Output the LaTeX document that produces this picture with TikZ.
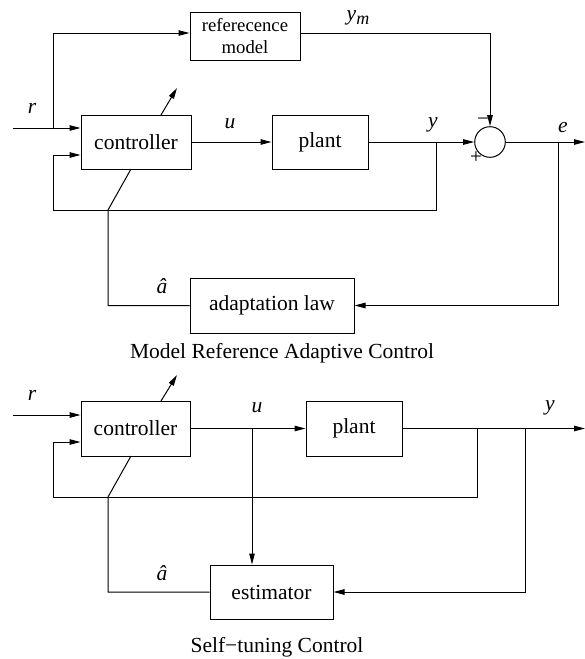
\documentclass[tikz,border=0pt]{standalone}
\usepackage{fontspec}
\setmainfont{Liberation Serif}
\usetikzlibrary{arrows.meta,calc}
\begin{document}
\begin{tikzpicture}[x=1pt,y=-1pt,line width=1pt,
  blk/.style={draw,line width=1pt,inner sep=0pt,font=\fontsize{21.5}{24}\selectfont},
  arr/.style={-{Triangle[length=11pt,width=5.5pt]}},
  lab/.style={inner sep=0pt,font=\fontsize{21.5}{24}\selectfont\itshape},
  sgn/.style={inner sep=0pt,font=\fontsize{21}{24}\selectfont},
  captxt/.style={inner sep=0pt,font=\fontsize{21.5}{24}\selectfont}]
\useasboundingbox (0,0) rectangle (585,659);
% ---------------- top: MRAC ----------------
\node[blk,minimum width=110,minimum height=48,align=center,font=\fontsize{18.7}{21.5}\selectfont] (refm) at (245,36) {referecence\\model};
\node[blk,minimum width=110,minimum height=54] (ctrl1) at (136,142) {controller};
\node[blk,minimum width=96,minimum height=54] (plant1) at (320,142) {plant};
\node[draw,circle,minimum size=30.6,inner sep=0pt,line width=1pt] (sum) at (490,142) {};
\node[blk,minimum width=164,minimum height=55] (adapt) at (272,305.5) {adaptation law};
\node[captxt] (cap1) at (282,353) {Model Reference Adaptive Control};

\coordinate (rin1) at (13,128);
\coordinate (rj1) at (53,128);
\coordinate (rt1) at (53,33);
\draw[arr] (rin1) -- (rin1 -| ctrl1.west);
\draw[arr] (rj1) -- (rt1) -- (rt1 -| refm.west);
\coordinate (ymc) at (490,33);
\draw[arr] (ymc -| refm.east) -- (ymc) -- (sum.north);
\draw[arr] (ctrl1.east) -- (plant1.west);
\draw[arr] (plant1.east) -- (sum.west);
\coordinate (yj1) at (436,142);
\coordinate (fb1) at (436,210);
\coordinate (fbl1) at (53,210);
\coordinate (fbi1) at (53,155);
\draw[arr] (yj1) -- (fb1) -- (fbl1) -- (fbi1) -- (fbi1 -| ctrl1.west);
\coordinate (eout) at (585,142);
\draw[arr] (sum.east) -- (eout);
\coordinate (ej) at (558,142);
\draw[arr] (ej) -- (ej |- adapt.east) -- (adapt.east);
\coordinate (ah1) at (108,210);
\coordinate (d1) at (131,169);
\draw (adapt.west) -- (adapt.west -| ah1) -- (ah1) -- (d1);
\coordinate (pa1) at (161,115);
\coordinate (pb1) at (177,88);
\draw[arr] (pa1) -- (pb1);

\node[lab] (lr1) at (32,108) {r};
\node[lab] (lu1) at (230,124) {u};
\node[lab] (ly1) at (433,125) {y};
\node[lab] (lym) at (358,18) {y\raisebox{-3.5pt}{\fontsize{18}{20}\selectfont m}};
\node[lab] (le) at (563,128) {e};
\node[sgn] (minus) at (483,122) {−};
\node[sgn] (plus) at (476,158) {+};
\node[lab] (la1) at (162,286) {â};

% ---------------- bottom: self-tuning ----------------
\node[blk,minimum width=109,minimum height=55] (ctrl2) at (135.5,428.5) {controller};
\node[blk,minimum width=96,minimum height=55] (plant2) at (354,428.5) {plant};
\node[blk,minimum width=123,minimum height=54] (est) at (271.5,592) {estimator};
\node[captxt] (cap2) at (277,647) {Self−tuning Control};

\coordinate (rin2) at (13,415);
\draw[arr] (rin2) -- (rin2 -| ctrl2.west);
\draw[arr] (ctrl2.east) -- (plant2.west);
\coordinate (yout2) at (585,428.5);
\draw[arr] (plant2.east) -- (yout2);
\coordinate (uj) at (252,428.5);
\draw[arr] (uj) -- (uj |- est.north);
\coordinate (yj2) at (477,428.5);
\coordinate (fb2) at (477,497);
\coordinate (fbl2) at (53,497);
\coordinate (fbi2) at (53,442);
\draw[arr] (yj2) -- (fb2) -- (fbl2) -- (fbi2) -- (fbi2 -| ctrl2.west);
\coordinate (yj3) at (525,428.5);
\draw[arr] (yj3) -- (yj3 |- est.east) -- (est.east);
\coordinate (ah2) at (108,497);
\coordinate (d2) at (131,456);
\draw (est.west) -- (est.west -| ah2) -- (ah2) -- (d2);
\coordinate (pa2) at (161,401);
\coordinate (pb2) at (177,375);
\draw[arr] (pa2) -- (pb2);

\node[lab] (lr2) at (32,395) {r};
\node[lab] (lu2) at (257,408) {u};
\node[lab] (ly2) at (550,408) {y};
\node[lab] (la2) at (162,573) {â};
\end{tikzpicture}
\end{document}
